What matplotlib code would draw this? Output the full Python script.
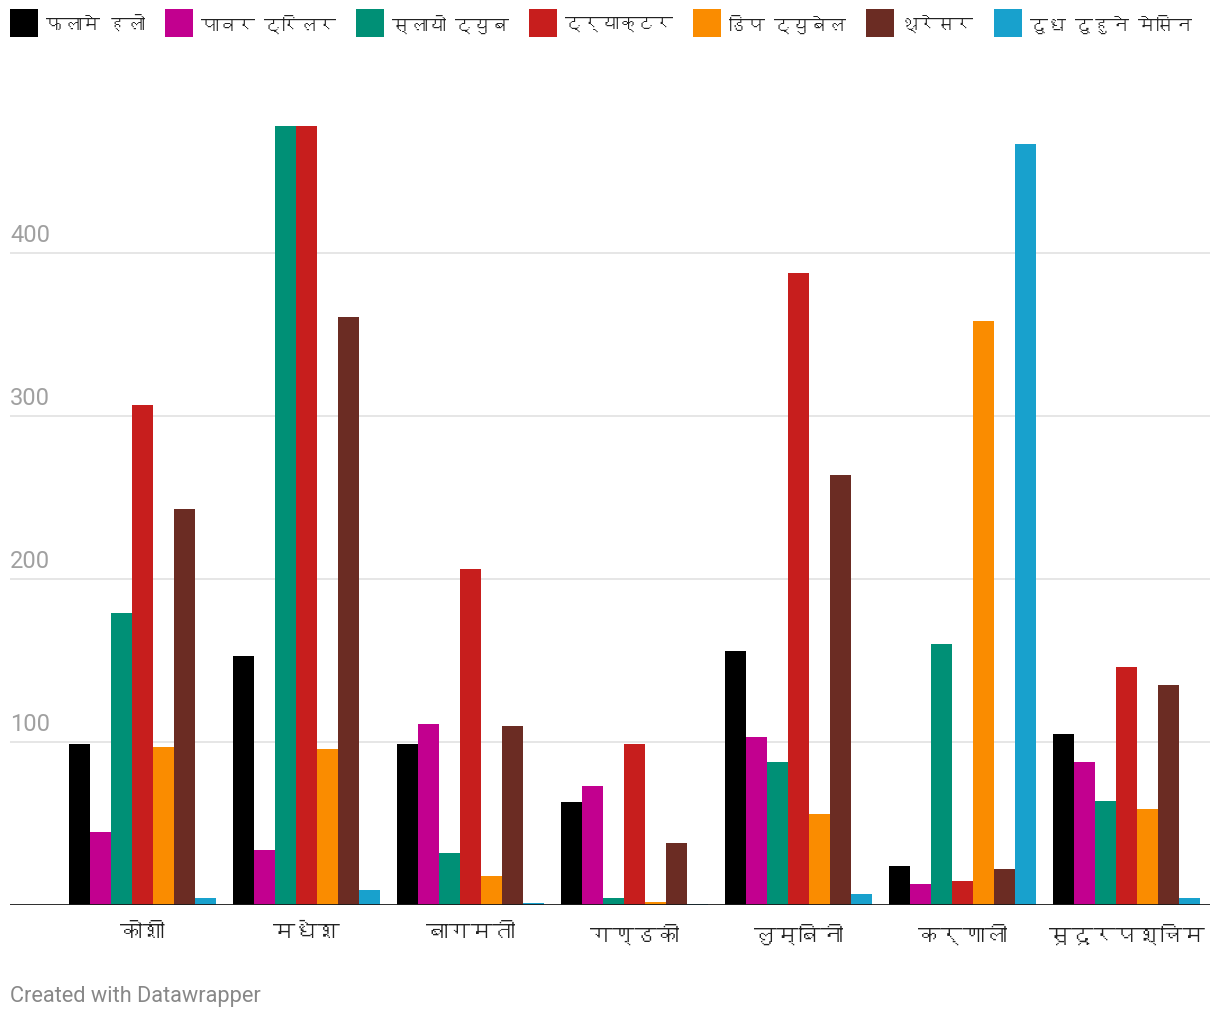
import matplotlib
matplotlib.use('Agg')
import matplotlib.pyplot as plt
import numpy as np
from matplotlib import font_manager
from matplotlib.ft2font import FT2Font
from matplotlib.patches import Rectangle

# provinces and machine counts
provinces = ['कोशी', 'मधेश', 'बागमती', 'गण्डकी', 'लुम्बिनी', 'कर्णाली', 'सूदूरपश्चिम']
series = ['फलामे हलो', 'पावर ट्रिलर', 'स्लायो ट्युब', 'ट्र्याक्टर',
          'डिप ट्युबेल', 'थ्रेसर', 'दुध दुहुने मेसिन']

falame_halo = [99, 153, 99, 63, 156, 24, 105]
power_tiller = [45, 34, 111, 73, 103, 13, 88]
slayo_tube = [179, 478, 32, 4, 88, 160, 64]
tractor = [307, 478, 206, 99, 388, 15, 146]
deep_tubewell = [97, 96, 18, 2, 56, 358, 59]
thresher = [243, 361, 110, 38, 264, 22, 135]
milking_machine = [4, 9, 1, 0.5, 7, 467, 4]

colors = ['#000000', '#c2008f', '#009076', '#c71e1d', '#fa8c00', '#6b2c23', '#18a1cd']
yticks = [100, 200, 300, 400]

W, H = 1220, 1020


def find_devanagari_font():
    for f in font_manager.fontManager.ttflist:
        try:
            cmap = FT2Font(f.fname).get_charmap()
        except Exception:
            continue
        if 0x0915 in cmap and 0x0940 in cmap:
            return f.name
    return None


deva = find_devanagari_font()
fam = ([deva] if deva else []) + ['Roboto', 'DejaVu Sans']
plt.rcParams['font.family'] = fam

fig = plt.figure(figsize=(W / 100, H / 100), dpi=100)
ax = fig.add_axes([10 / W, 114 / H, 1200 / W, 815 / H])

data = [falame_halo, power_tiller, slayo_tube, tractor, deep_tubewell, thresher, milking_machine]
x = np.arange(len(provinces))
bw = 21 / 164
for i, vals in enumerate(data):
    ax.bar(x + (i - 3) * bw, vals, width=bw, color=colors[i], linewidth=0, zorder=3)

ax.set_xlim(-0.808, 6.509)
ax.set_ylim(0, 500)
for t in yticks:
    ax.axhline(t, color='#e1e1e1', linewidth=1.2, zorder=1)
    ax.text(0, t + 4, str(t), transform=ax.get_yaxis_transform(), fontsize=17,
            color='#a0a0a0', family=['Roboto', 'DejaVu Sans'], va='bottom', ha='left')
ax.axhline(0, color='#1a1a1a', linewidth=2, zorder=4)

for s in ax.spines.values():
    s.set_visible(False)
ax.set_yticks([])
ax.set_xticks(x)
ax.set_xticklabels(provinces, fontsize=16, color='#222222')
ax.tick_params(axis='x', length=0, pad=13)

# legend laid out by hand: square, label, gap, next square
renderer = fig.canvas.get_renderer()
sq, pad, gap = 28, 8, 20
fs = 17
while True:
    labels = [fig.text(0, 0, s, fontsize=fs, color='#222222', va='center', ha='left')
              for s in series]
    widths = [t.get_window_extent(renderer).width for t in labels]
    total = 10 + sum(sq + pad + w for w in widths) + gap * (len(series) - 1)
    if total <= W - 10 or fs <= 11:
        break
    for t in labels:
        t.remove()
    fs -= 0.5

xpos, yc = 10, 24
for c, t, w in zip(colors, labels, widths):
    fig.patches.append(Rectangle((xpos / W, 1 - (yc + sq / 2) / H), sq / W, sq / H,
                                 transform=fig.transFigure, color=c, linewidth=0))
    t.set_position(((xpos + sq + pad) / W, 1 - yc / H))
    xpos += sq + pad + w + gap

fig.text(10 / W, 1 - 997 / H, 'Created with Datawrapper', fontsize=15.7,
         color='#888888', family=['Roboto', 'DejaVu Sans'], va='center', ha='left')

fig.savefig('out.png', dpi=100)
